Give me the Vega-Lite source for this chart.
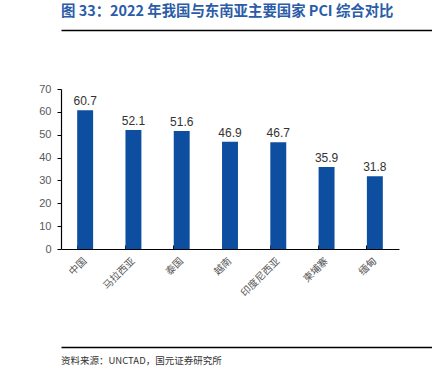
{
  "$schema": "https://vega.github.io/schema/vega-lite/v6.json",
  "autosize": "pad",
  "padding": {"left": 20, "top": 4, "right": 10, "bottom": 4},
  "background": "white",
  "spacing": 46,
  "align": "none",
  "resolve": {"scale": {"x": "independent", "y": "independent"}, "axis": {"x": "independent", "y": "independent"}},
  "config": {
    "font": "Liberation Sans",
    "view": {"stroke": null}
  },
  "vconcat": [
    {
      "data": {"values": [{"a": 0}]},
      "mark": {"type": "point", "opacity": 0},
      "width": 402,
      "height": 1,
      "encoding": {
        "x": {
          "field": "a",
          "type": "quantitative",
          "axis": {"title": null, "labels": false, "ticks": false, "grid": false, "domain": true, "domainColor": "#000000", "domainWidth": 1.5, "orient": "top"}
        }
      },
      "title": {
        "text": "图 33：2022 年我国与东南亚主要国家 PCI 综合对比",
        "anchor": "start",
        "font": "Noto Sans CJK SC",
        "fontSize": 14.4,
        "fontWeight": "bold",
        "color": "#2a5ca8",
        "offset": 8
      }
    },
    {
      "data": {
        "values": [
          {"country": "中国", "pci": 60.7},
          {"country": "马拉西亚", "pci": 52.1},
          {"country": "泰国", "pci": 51.6},
          {"country": "越南", "pci": 46.9},
          {"country": "印度尼西亚", "pci": 46.7},
          {"country": "柬埔寨", "pci": 35.9},
          {"country": "缅甸", "pci": 31.8}
        ]
      },
      "width": 338,
      "height": 160,
      "title": {"text": " ", "fontSize": 2, "offset": 1},
      "encoding": {
        "x": {
          "field": "country",
          "type": "nominal",
          "sort": null,
          "scale": {"paddingInner": 0.67, "paddingOuter": 0.335},
          "axis": {
            "title": null,
            "labelAngle": -45,
            "labelAlign": "right",
            "labelBaseline": "middle",
            "labelFont": "Noto Sans CJK SC",
            "labelFontSize": 10,
            "labelColor": "#555555",
            "labelPadding": 14,
            "domainColor": "#000000",
            "domainWidth": 1.2,
            "tickColor": "#000000",
            "tickSize": -4,
            "bandPosition": 0
          }
        },
        "y": {
          "field": "pci",
          "type": "quantitative",
          "scale": {"domain": [0, 70]},
          "axis": {
            "title": null,
            "values": [0, 10, 20, 30, 40, 50, 60, 70],
            "grid": false,
            "labelFontSize": 11,
            "labelColor": "#595959",
            "labelPadding": 6,
            "domainColor": "#000000",
            "domainWidth": 1.2,
            "tickColor": "#000000",
            "tickSize": 4,
            "minExtent": 41
          }
        }
      },
      "layer": [
        {"mark": {"type": "bar", "color": "#0d4ea0"}},
        {
          "mark": {"type": "text", "dy": -9, "fontSize": 12, "color": "#333333"},
          "encoding": {"text": {"field": "pci", "type": "quantitative", "format": ".1f"}}
        }
      ]
    },
    {
      "data": {"values": [{"b": 0}]},
      "mark": {"type": "point", "opacity": 0},
      "width": 402,
      "height": 1,
      "encoding": {
        "x": {
          "field": "b",
          "type": "quantitative",
          "axis": {"title": null, "labels": false, "ticks": false, "grid": false, "domain": true, "domainColor": "#000000", "domainWidth": 1.5, "orient": "top"}
        }
      },
      "title": {
        "text": "资料来源：UNCTAD，国元证券研究所",
        "orient": "bottom",
        "anchor": "start",
        "font": "Noto Sans CJK SC",
        "fontSize": 9.5,
        "fontWeight": "normal",
        "color": "#333333",
        "offset": 6
      }
    }
  ]
}
